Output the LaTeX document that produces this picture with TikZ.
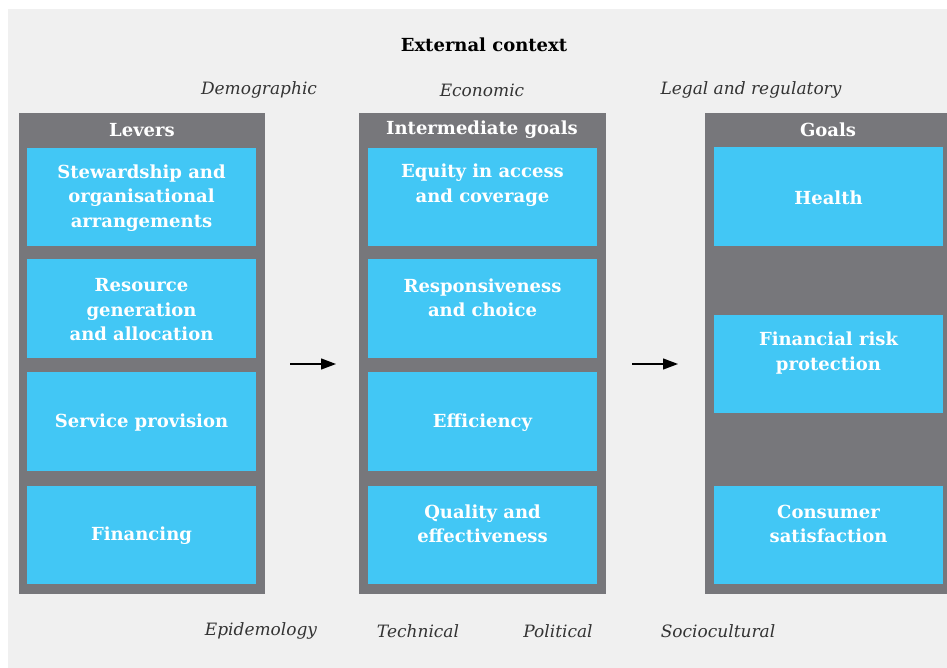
\documentclass[tikz,border=0pt]{standalone}
\usepackage{fontspec}
\setmainfont{DejaVu Serif}
\usetikzlibrary{arrows.meta}
\definecolor{bgc}{HTML}{F0F0F0}
\definecolor{panelc}{HTML}{77777B}
\definecolor{bluec}{HTML}{42C7F5}
\definecolor{labc}{HTML}{333333}
\tikzset{
  panel/.style={fill=panelc, draw=none},
  cell/.style={fill=bluec, draw=none},
  celltext/.style={text=white, font=\bfseries\fontsize{18}{24.5}\selectfont, align=center},
  headtext/.style={text=white, font=\bfseries\fontsize{18}{22}\selectfont},
  factor/.style={text=labc, font=\itshape\fontsize{17}{20}\selectfont},
  flow/.style={draw=black, line width=1.3pt, -{Triangle[length=15pt,width=11pt]}}
}
\begin{document}
\begin{tikzpicture}[x=1pt,y=-1pt]
\useasboundingbox (0,0) rectangle (947,668);
\fill[white] (0,0) rectangle (947,668);
\fill[bgc] (8,9) rectangle (947,668);
% panels
\path[panel] (19,113) rectangle (265,594);
\path[panel] (359,113) rectangle (606,594);
\path[panel] (705,113) rectangle (947,594);
\node[headtext] (hL) at (142,130) {Levers};
\node[headtext] (hM) at (482,130) {Intermediate goals};
\node[headtext] (hR) at (828,130) {Goals};
% left cells
\path[cell] (27,148) rectangle (256,246);
\path[cell] (27,259) rectangle (256,358);
\path[cell] (27,372) rectangle (256,471);
\path[cell] (27,486) rectangle (256,584);
\node[celltext] (l1) at (141.5,198) {Stewardship and\\organisational\\arrangements};
\node[celltext] (l2) at (141.5,310) {Resource\\generation\\and allocation};
\node[celltext] (l3) at (141.5,423) {Service provision};
\node[celltext] (l4) at (141.5,536) {Financing};
% middle cells
\path[cell] (368,148) rectangle (597,246);
\path[cell] (368,259) rectangle (597,358);
\path[cell] (368,372) rectangle (597,471);
\path[cell] (368,486) rectangle (597,584);
\node[celltext] (m1) at (482.5,185) {Equity in access\\and coverage};
\node[celltext] (m2) at (482.5,298) {Responsiveness\\and choice};
\node[celltext] (m3) at (482.5,423) {Efficiency};
\node[celltext] (m4) at (482.5,524) {Quality and\\effectiveness};
% right cells
\path[cell] (714,147) rectangle (943,246);
\path[cell] (714,315) rectangle (943,413);
\path[cell] (714,486) rectangle (943,584);
\node[celltext] (r1) at (828.5,198) {Health};
\node[celltext] (r2) at (828.5,353) {Financial risk\\protection};
\node[celltext] (r3) at (828.5,524) {Consumer\\satisfaction};
% arrows
\coordinate (a1s) at (290,364);
\coordinate (a1e) at (336,364);
\coordinate (a2s) at (632,364);
\coordinate (a2e) at (678,364);
\draw[flow] (a1s) -- (a1e);
\draw[flow] (a2s) -- (a2e);
% titles and factors
\node[text=black, font=\bfseries\fontsize{18}{22}\selectfont] (title) at (484,45) {External context};
\node[factor] (f1) at (259,90) {Demographic};
\node[factor] (f2) at (482,90) {Economic};
\node[factor] (f3) at (751,90) {Legal and regulatory};
\node[factor] (f4) at (261,631) {Epidemology};
\node[factor] (f5) at (418,631) {Technical};
\node[factor] (f6) at (558,631) {Political};
\node[factor] (f7) at (718,631) {Sociocultural};
\end{tikzpicture}
\end{document}
